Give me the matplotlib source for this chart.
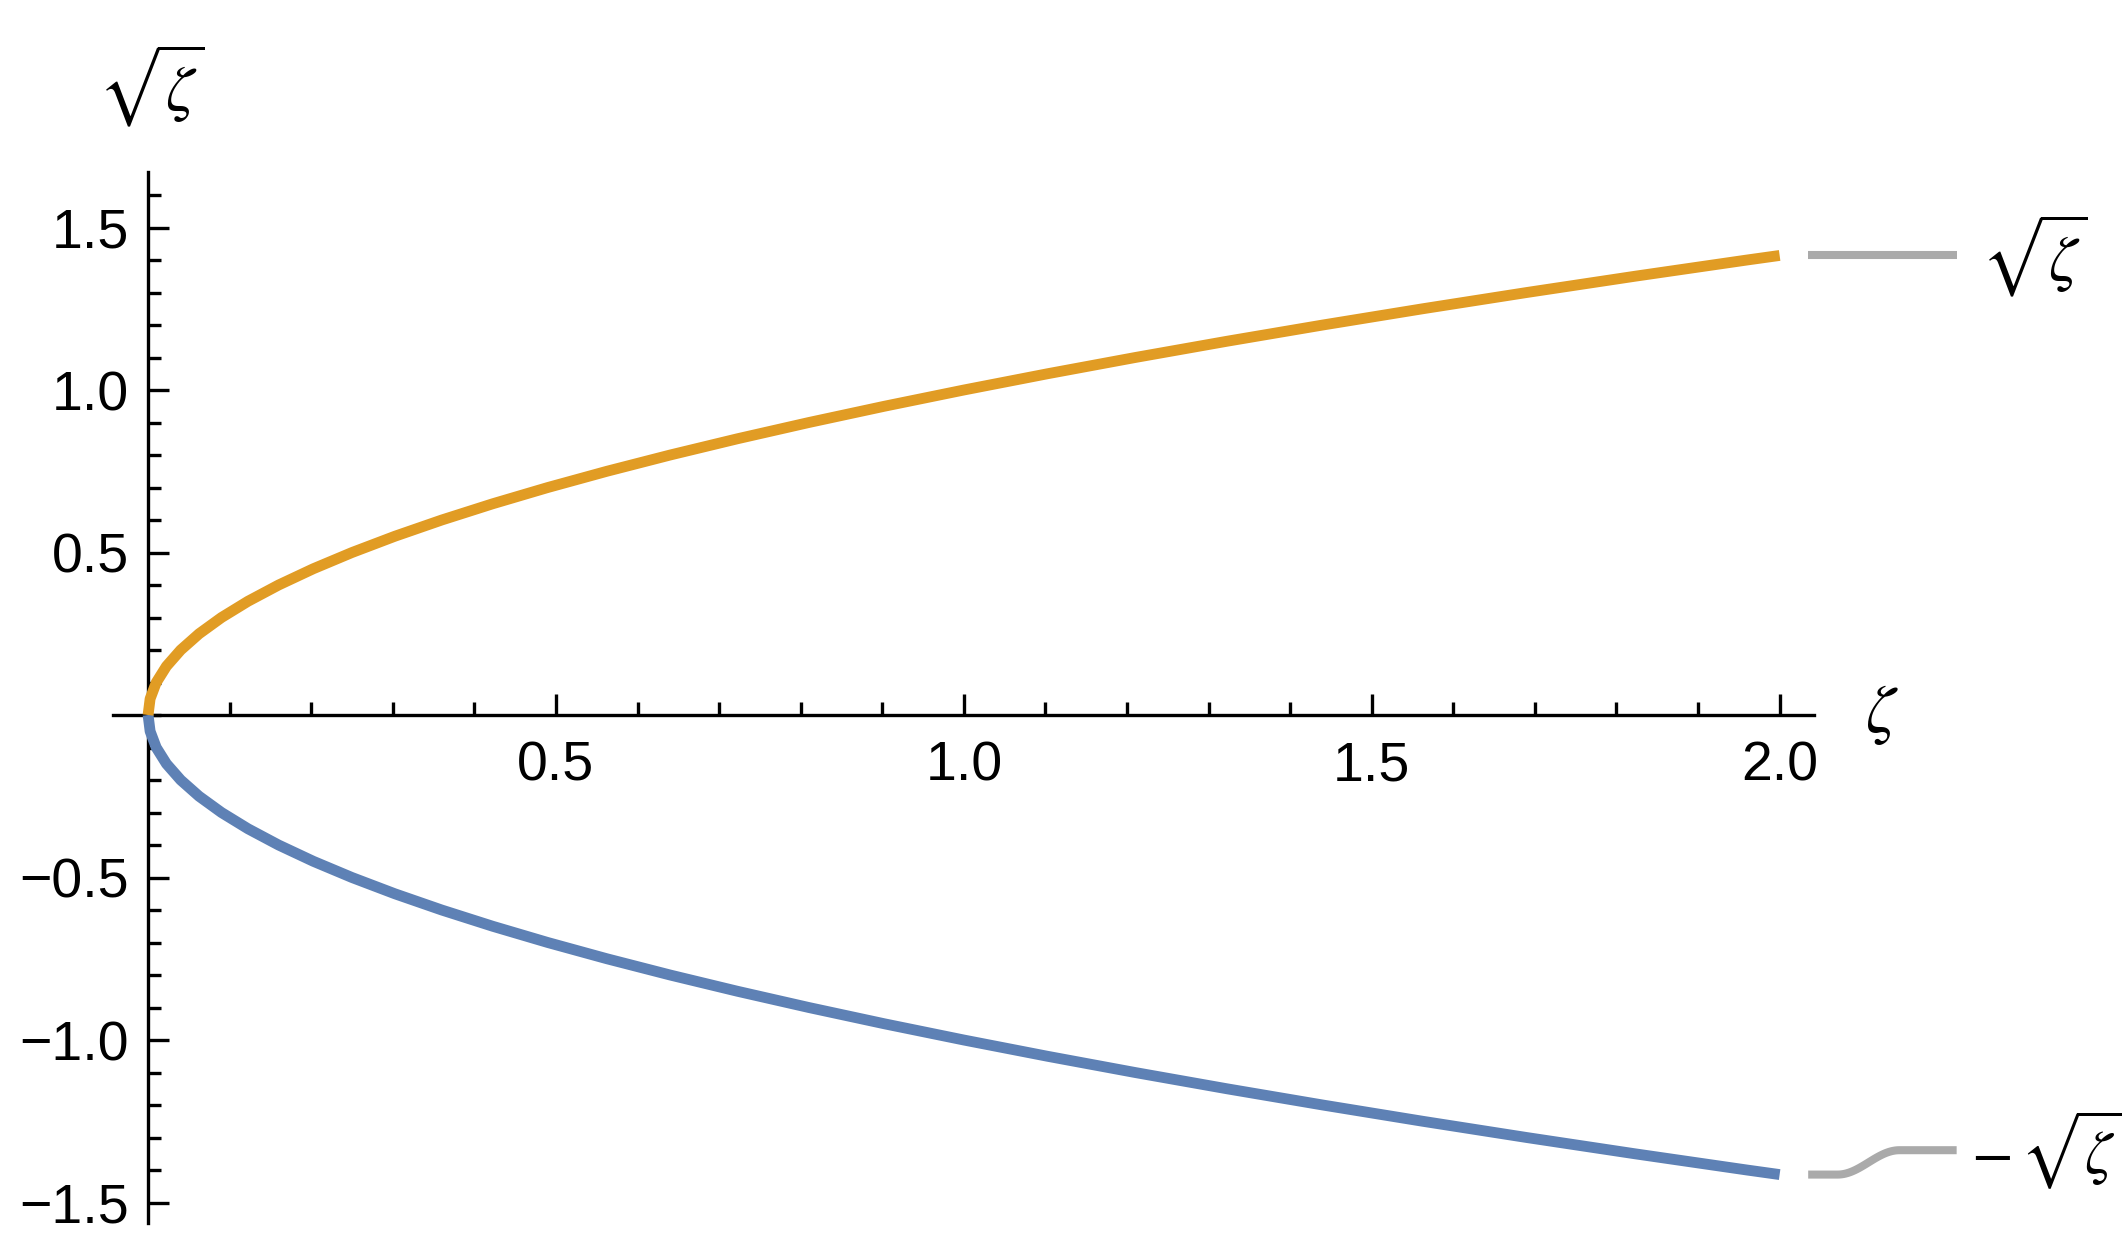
"""Upper and lower branches of sqrt(zeta) meeting at the origin."""

import matplotlib
matplotlib.use("Agg")
import matplotlib.pyplot as plt
import numpy as np

# values (zeta, +branch, -branch)
zeta = [0.0, 0.0025, 0.01, 0.0225, 0.04, 0.0625, 0.09, 0.1225, 0.16, 0.2025,
        0.25, 0.3025, 0.36, 0.4225, 0.49, 0.5625, 0.64, 0.7225, 0.81, 0.9025,
        1.0, 1.1025, 1.21, 1.3225, 1.44, 1.5625, 1.69, 1.8225, 1.96, 2.0]
upper = [0.0, 0.05, 0.10, 0.15, 0.20, 0.25, 0.30, 0.35, 0.40, 0.45,
         0.50, 0.55, 0.60, 0.65, 0.70, 0.75, 0.80, 0.85, 0.90, 0.95,
         1.00, 1.05, 1.10, 1.15, 1.20, 1.25, 1.30, 1.35, 1.40, 1.414]
lower = [0.0, -0.05, -0.10, -0.15, -0.20, -0.25, -0.30, -0.35, -0.40, -0.45,
         -0.50, -0.55, -0.60, -0.65, -0.70, -0.75, -0.80, -0.85, -0.90, -0.95,
         -1.00, -1.05, -1.10, -1.15, -1.20, -1.25, -1.30, -1.35, -1.40, -1.414]

x_major = [0.5, 1.0, 1.5, 2.0]
y_major = [-1.5, -1.0, -0.5, 0.5, 1.0, 1.5]
labels = [r"$\sqrt{\zeta}$", r"$-\,\sqrt{\zeta}$"]

ORANGE = "#E19C24"
BLUE = "#5E81B5"
GRAY = "#AAAAAA"

plt.rcParams["font.family"] = ["Liberation Sans", "DejaVu Sans"]
plt.rcParams["mathtext.fontset"] = "stix"

fig = plt.figure(figsize=(10.62, 6.275), dpi=200)
ax = fig.add_axes([0.0532, 0.0255, 0.8008, 0.8375])

ax.plot(zeta, lower, color=BLUE, lw=3.9, solid_capstyle="butt", zorder=3)
ax.plot(zeta, upper, color=ORANGE, lw=3.9, solid_capstyle="butt", zorder=4)

ax.set_xlim(-0.043, 2.042)
ax.set_ylim(-1.563, 1.671)

for s in ["top", "right"]:
    ax.spines[s].set_visible(False)
ax.spines["left"].set_position(("data", 0))
ax.spines["bottom"].set_position(("data", 0))
for s in ["left", "bottom"]:
    ax.spines[s].set_linewidth(1.2)

ax.set_xticks(x_major, [f"{v:.1f}" for v in x_major])
ax.set_yticks(y_major, [f"{v:.1f}".replace("-", "\u2212") for v in y_major])
ax.set_xticks(np.arange(1, 21) / 10, minor=True)
ax.set_yticks(np.arange(-15, 17) / 10, minor=True)
ax.tick_params(which="both", direction="in", width=1.2, labelsize=20)
ax.tick_params(which="major", length=7.6)
ax.tick_params(which="minor", length=4.7)
ax.tick_params(axis="y", pad=7)
ax.tick_params(axis="x", pad=9)

# axis labels
ax.text(2.105, 0.0, r"$\zeta$", fontsize=24, ha="left", va="center")
fig.text(0.071, 0.932, r"$\sqrt{\zeta}$", fontsize=23, ha="center", va="center")

# callout lines and labels at the right end
x0 = zeta[-1] + 0.035
x1 = zeta[-1] + 0.217
ax.plot([x0, x1], [upper[-1], upper[-1]], color=GRAY, lw=2.9,
        solid_capstyle="butt", clip_on=False)
y_lab = lower[-1] + 0.075
t = np.linspace(0, 1, 40)
xs = np.concatenate([[x0], zeta[-1] + 0.071 + t * 0.076, [x1]])
ys = np.concatenate([[lower[-1]],
                     lower[-1] + (y_lab - lower[-1]) * (1 - np.cos(np.pi * t)) / 2,
                     [y_lab]])
ax.plot(xs, ys, color=GRAY, lw=2.9, solid_capstyle="butt", clip_on=False)

ax.text(x1 + 0.03, upper[-1], labels[0], fontsize=23, ha="left", va="center")
ax.text(x1 + 0.018, y_lab, labels[1], fontsize=22, ha="left", va="center")

fig.savefig("out.png", dpi=200)
